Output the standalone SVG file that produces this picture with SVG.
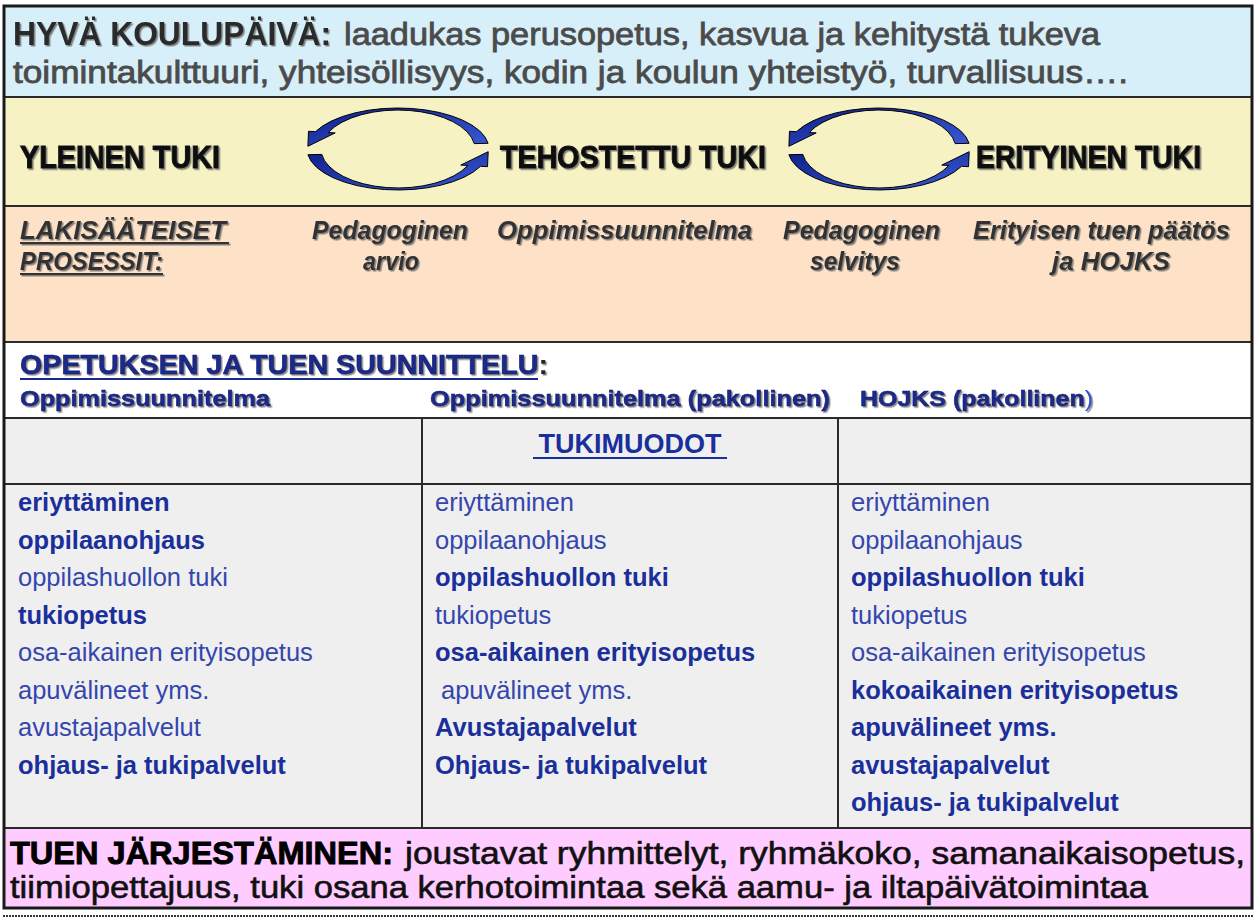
<svg xmlns="http://www.w3.org/2000/svg" width="1256" height="919" viewBox="0 0 1256 919">
<defs>
<style>
.f{font-family:"Liberation Sans",Arial,Helvetica,sans-serif}
.hv{font-size:33px;font-weight:bold;fill:#2a2a2a}
.top{font-size:32px;fill:#4b4b4b;stroke:#4b4b4b;stroke-width:0.8}
.lvl{font-size:31px;font-weight:bold;fill:#111;stroke:#111;stroke-width:1}
.pr{font-size:26px;font-weight:bold;font-style:italic;fill:#333}
.op{font-size:27px;font-weight:bold;fill:#1a2a8c;stroke:#10186a;stroke-width:0.6}
.oh{font-size:22px;font-weight:bold;fill:#1a2a8c;stroke:#10186a;stroke-width:0.5}
.tb{font-size:25.5px;font-weight:bold;fill:#1b2f9c}
.tr{font-size:25.5px;fill:#3446ad}
.tj{font-size:32px;fill:#111;stroke:#111;stroke-width:0.6}
.tjb{font-size:32px;font-weight:bold;fill:#000;stroke:#000;stroke-width:0.9}
.sep{stroke:#2a2a2a;stroke-width:2;fill:none}
.arr{fill:url(#ag);stroke:#000;stroke-width:1}
</style>
<linearGradient id="ag" x1="0" y1="0" x2="1" y2="1">
<stop offset="0" stop-color="#0f1f8a"/>
<stop offset="1" stop-color="#3a5ad6"/>
</linearGradient>
<filter id="sh" x="-5%" y="-30%" width="110%" height="160%">
<feDropShadow dx="1.5" dy="1.5" stdDeviation="0.7" flood-color="#666" flood-opacity="0.8"/>
</filter>
</defs>

<g id="bands">
<rect x="4" y="7" width="1248" height="90" fill="#d7eff9"/>
<rect x="4" y="97" width="1248" height="109" fill="#f6f2c3"/>
<rect x="4" y="206" width="1248" height="136" fill="#fde2c8"/>
<rect x="4" y="342" width="1248" height="76" fill="#ffffff"/>
<rect x="4" y="418" width="1248" height="410" fill="#efefef"/>
<rect x="4" y="828" width="1248" height="80" fill="#ffccff"/>
<line class="sep" x1="4" y1="97" x2="1252" y2="97"/>
<line class="sep" x1="4" y1="206" x2="1252" y2="206"/>
<line class="sep" x1="4" y1="342" x2="1252" y2="342"/>
<line class="sep" x1="4" y1="418" x2="1252" y2="418"/>
<line class="sep" x1="4" y1="828" x2="1252" y2="828"/>
<line class="sep" x1="4" y1="484" x2="1252" y2="484" stroke-width="1.5"/>
<line class="sep" x1="422" y1="418" x2="422" y2="828" stroke-width="1.5"/>
<line class="sep" x1="838" y1="418" x2="838" y2="828" stroke-width="1.5"/>
<rect x="4" y="6" width="1248" height="902" fill="none" stroke="#1a1a1a" stroke-width="3"/>
<line x1="3" y1="916" x2="1253" y2="916" stroke="#333" stroke-width="2" stroke-dasharray="2 1"/>
</g>

<g id="hyva-koulupaiva" class="f">
<text class="hv" x="13" y="45" textLength="318" lengthAdjust="spacingAndGlyphs" filter="url(#sh)">HYVÄ KOULUPÄIVÄ:</text>
<text class="top" x="344" y="45" textLength="756" lengthAdjust="spacingAndGlyphs">laadukas perusopetus, kasvua ja kehitystä tukeva</text>
<text class="top" x="13" y="83" textLength="1115" lengthAdjust="spacingAndGlyphs">toimintakulttuuri, yhteisöllisyys, kodin ja koulun yhteistyö, turvallisuus….</text>
</g>

<g id="yleinen-tuki" class="f">
<text class="lvl" x="20" y="168" textLength="200" lengthAdjust="spacingAndGlyphs" filter="url(#sh)">YLEINEN TUKI</text>
</g>
<g id="tehostettu-tuki" class="f">
<text class="lvl" x="500" y="168" textLength="266" lengthAdjust="spacingAndGlyphs" filter="url(#sh)">TEHOSTETTU TUKI</text>
</g>
<g id="erityinen-tuki" class="f">
<text class="lvl" x="976" y="168" textLength="225" lengthAdjust="spacingAndGlyphs" filter="url(#sh)">ERITYINEN TUKI</text>
</g>

<g id="connectors">
<g id="cycle1">
<path class="arr" d="M488.1,143.3 A91,41 0 0 0 315.5,131.7 L308.5,131.3 L307.9,146.3 L335.2,132.9 L328.2,132.5 A77,39 0 0 1 474.2,143.6 Z"/>
<path class="arr" d="M307.9,154.7 A91,41 0 0 0 480.5,166.3 L487.5,166.7 L488.2,151.7 L460.8,165.1 L467.8,165.5 A77,39 0 0 1 321.8,154.4 Z"/>
</g>
<g id="cycle2" transform="translate(481,0)">
<path class="arr" d="M488.1,143.3 A91,41 0 0 0 315.5,131.7 L308.5,131.3 L307.9,146.3 L335.2,132.9 L328.2,132.5 A77,39 0 0 1 474.2,143.6 Z"/>
<path class="arr" d="M307.9,154.7 A91,41 0 0 0 480.5,166.3 L487.5,166.7 L488.2,151.7 L460.8,165.1 L467.8,165.5 A77,39 0 0 1 321.8,154.4 Z"/>
</g>
</g>

<g id="lakisaateiset" class="f" filter="url(#sh)">
<text class="pr" x="20" y="239" textLength="206" lengthAdjust="spacingAndGlyphs">LAKISÄÄTEISET</text>
<line x1="20" y1="243" x2="229" y2="243" stroke="#333" stroke-width="1.8"/>
<text class="pr" x="20" y="270" textLength="143" lengthAdjust="spacingAndGlyphs">PROSESSIT:</text>
<line x1="20" y1="274" x2="163" y2="274" stroke="#333" stroke-width="1.8"/>
</g>
<g id="pedagoginen-arvio" class="f" filter="url(#sh)">
<text class="pr" x="312" y="239" textLength="156" lengthAdjust="spacingAndGlyphs">Pedagoginen</text>
<text class="pr" x="363" y="270" textLength="56" lengthAdjust="spacingAndGlyphs">arvio</text>
</g>
<g id="oppimissuunnitelma-p" class="f" filter="url(#sh)">
<text class="pr" x="497" y="239" textLength="255" lengthAdjust="spacingAndGlyphs">Oppimissuunnitelma</text>
</g>
<g id="pedagoginen-selvitys" class="f" filter="url(#sh)">
<text class="pr" x="783" y="239" textLength="157" lengthAdjust="spacingAndGlyphs">Pedagoginen</text>
<text class="pr" x="810" y="270" textLength="90" lengthAdjust="spacingAndGlyphs">selvitys</text>
</g>
<g id="erityisen-tuen-paatos" class="f" filter="url(#sh)">
<text class="pr" x="973" y="239" textLength="257" lengthAdjust="spacingAndGlyphs">Erityisen tuen päätös</text>
<text class="pr" x="1052" y="270" textLength="118" lengthAdjust="spacingAndGlyphs">ja HOJKS</text>
</g>

<g id="suunnittelu" class="f">
<text class="op" x="20" y="374" textLength="528" lengthAdjust="spacingAndGlyphs" filter="url(#sh)">OPETUKSEN JA TUEN SUUNNITTELU<tspan style="fill:#222;stroke:none">:</tspan></text>
<line x1="20" y1="379" x2="538" y2="379" stroke="#1a2a8c" stroke-width="2"/>
<text class="oh" x="20" y="406" textLength="250" lengthAdjust="spacingAndGlyphs" filter="url(#sh)">Oppimissuunnitelma</text>
<text class="oh" x="430" y="406" textLength="400" lengthAdjust="spacingAndGlyphs" filter="url(#sh)">Oppimissuunnitelma (pakollinen)</text>
<text class="oh" x="860" y="406" textLength="233" lengthAdjust="spacingAndGlyphs" filter="url(#sh)">HOJKS (pakollinen<tspan style="fill:#3050d0;stroke:none;font-weight:normal">)</tspan></text>
</g>

<g id="tukimuodot" class="f">
<text x="630" y="453" text-anchor="middle" style="font-size:27px;font-weight:bold;fill:#1b2f9c">TUKIMUODOT</text>
<line x1="533" y1="458" x2="727" y2="458" stroke="#1b2f9c" stroke-width="2"/>
</g>

<g id="col-yleinen" class="f">
<text class="tb" x="18" y="511">eriyttäminen</text>
<text class="tb" x="18" y="549">oppilaanohjaus</text>
<text class="tr" x="18" y="586">oppilashuollon tuki</text>
<text class="tb" x="18" y="624">tukiopetus</text>
<text class="tr" x="18" y="661">osa-aikainen erityisopetus</text>
<text class="tr" x="18" y="699">apuvälineet yms.</text>
<text class="tr" x="18" y="736">avustajapalvelut</text>
<text class="tb" x="18" y="774">ohjaus- ja tukipalvelut</text>
</g>
<g id="col-tehostettu" class="f">
<text class="tr" x="435" y="511">eriyttäminen</text>
<text class="tr" x="435" y="549">oppilaanohjaus</text>
<text class="tb" x="435" y="586">oppilashuollon tuki</text>
<text class="tr" x="435" y="624">tukiopetus</text>
<text class="tb" x="435" y="661">osa-aikainen erityisopetus</text>
<text class="tr" x="441" y="699">apuvälineet yms.</text>
<text class="tb" x="435" y="736">Avustajapalvelut</text>
<text class="tb" x="435" y="774">Ohjaus- ja tukipalvelut</text>
</g>
<g id="col-erityinen" class="f">
<text class="tr" x="851" y="511">eriyttäminen</text>
<text class="tr" x="851" y="549">oppilaanohjaus</text>
<text class="tb" x="851" y="586">oppilashuollon tuki</text>
<text class="tr" x="851" y="624">tukiopetus</text>
<text class="tr" x="851" y="661">osa-aikainen erityisopetus</text>
<text class="tb" x="851" y="699">kokoaikainen erityisopetus</text>
<text class="tb" x="851" y="736">apuvälineet yms.</text>
<text class="tb" x="851" y="774">avustajapalvelut</text>
<text class="tb" x="851" y="811">ohjaus- ja tukipalvelut</text>
</g>

<g id="tuen-jarjestaminen" class="f">
<text class="tjb" x="10" y="864" textLength="383" lengthAdjust="spacingAndGlyphs">TUEN JÄRJESTÄMINEN:</text>
<text class="tj" x="405" y="864" textLength="840" lengthAdjust="spacingAndGlyphs">joustavat ryhmittelyt, ryhmäkoko, samanaikaisopetus,</text>
<text class="tj" x="10" y="898" textLength="1138" lengthAdjust="spacingAndGlyphs">tiimiopettajuus, tuki osana kerhotoimintaa sekä aamu- ja iltapäivätoimintaa</text>
</g>
</svg>
